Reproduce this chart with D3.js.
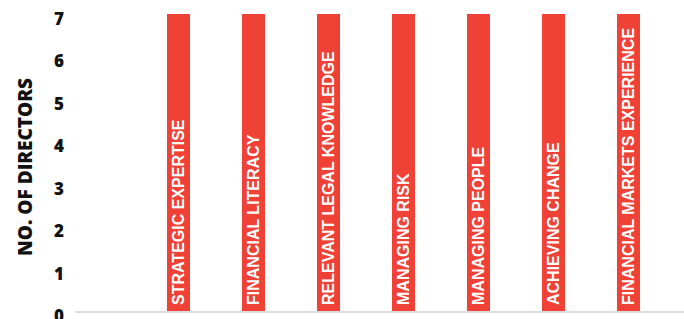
<!DOCTYPE html>
<meta charset="utf-8">
<style>
    body { margin: 0; background: #fff; }
    .tick text { font-family: "Open Sans", sans-serif; font-weight: 800; font-size: 17px; fill: #111; }
    .bar-label { font-family: "Liberation Sans", Arial, sans-serif; font-weight: bold; font-size: 16px; fill: #fff; }
</style>
<body>
<svg width="684" height="319"></svg>
<script src="https://d3js.org/d3.v7.min.js"></script>
<script>
    const categories = ["STRATEGIC EXPERTISE", "FINANCIAL LITERACY", "RELEVANT LEGAL KNOWLEDGE",
        "MANAGING RISK", "MANAGING PEOPLE", "ACHIEVING CHANGE", "FINANCIAL MARKETS EXPERIENCE"];
    const directors = [7, 7, 7, 7, 7, 7, 7];
    const yTicks = [0, 1, 2, 3, 4, 5, 6, 7];

    const svg = d3.select("svg");

    const x = d3.scaleBand()
        .domain(categories)
        .range([141, 666])
        .paddingInner(0.693)
        .paddingOuter(0.3465);

    const y = d3.scaleLinear()
        .domain([0, 7])
        .range([311, 14]);

    // baseline
    svg.append("line")
        .attr("x1", 75).attr("x2", 684)
        .attr("y1", y(0) + 1).attr("y2", y(0) + 1)
        .attr("stroke", "#dcdcdc")
        .attr("stroke-width", 2);

    const yAxis = svg.append("g")
        .attr("transform", "translate(64,0)")
        .call(d3.axisLeft(y).tickValues(yTicks).tickSize(0).tickPadding(0).tickFormat(d3.format("d")));
    yAxis.select(".domain").remove();
    yAxis.selectAll(".tick text").attr("dy", "0.62em");

    svg.append("text")
        .attr("transform", "translate(32,167) rotate(-90)")
        .attr("text-anchor", "middle")
        .style("font-family", "'Open Sans', sans-serif")
        .style("font-weight", 800)
        .style("font-size", "19px")
        .style("fill", "#111")
        .text("NO. OF DIRECTORS");

    const bars = svg.selectAll(".bar")
        .data(categories)
        .enter().append("g")
        .attr("class", "bar");

    bars.append("rect")
        .attr("x", d => x(d))
        .attr("width", x.bandwidth())
        .attr("y", (d, i) => y(directors[i]))
        .attr("height", (d, i) => y(0) - y(directors[i]))
        .attr("fill", "#f04137");

    bars.append("text")
        .attr("class", "bar-label")
        .attr("transform", d => "translate(" + (x(d) + x.bandwidth() / 2) + "," + (y(0) - 6) + ") rotate(-90)")
        .attr("dy", "0.36em")
        .text(d => d);
</script>
</body>
